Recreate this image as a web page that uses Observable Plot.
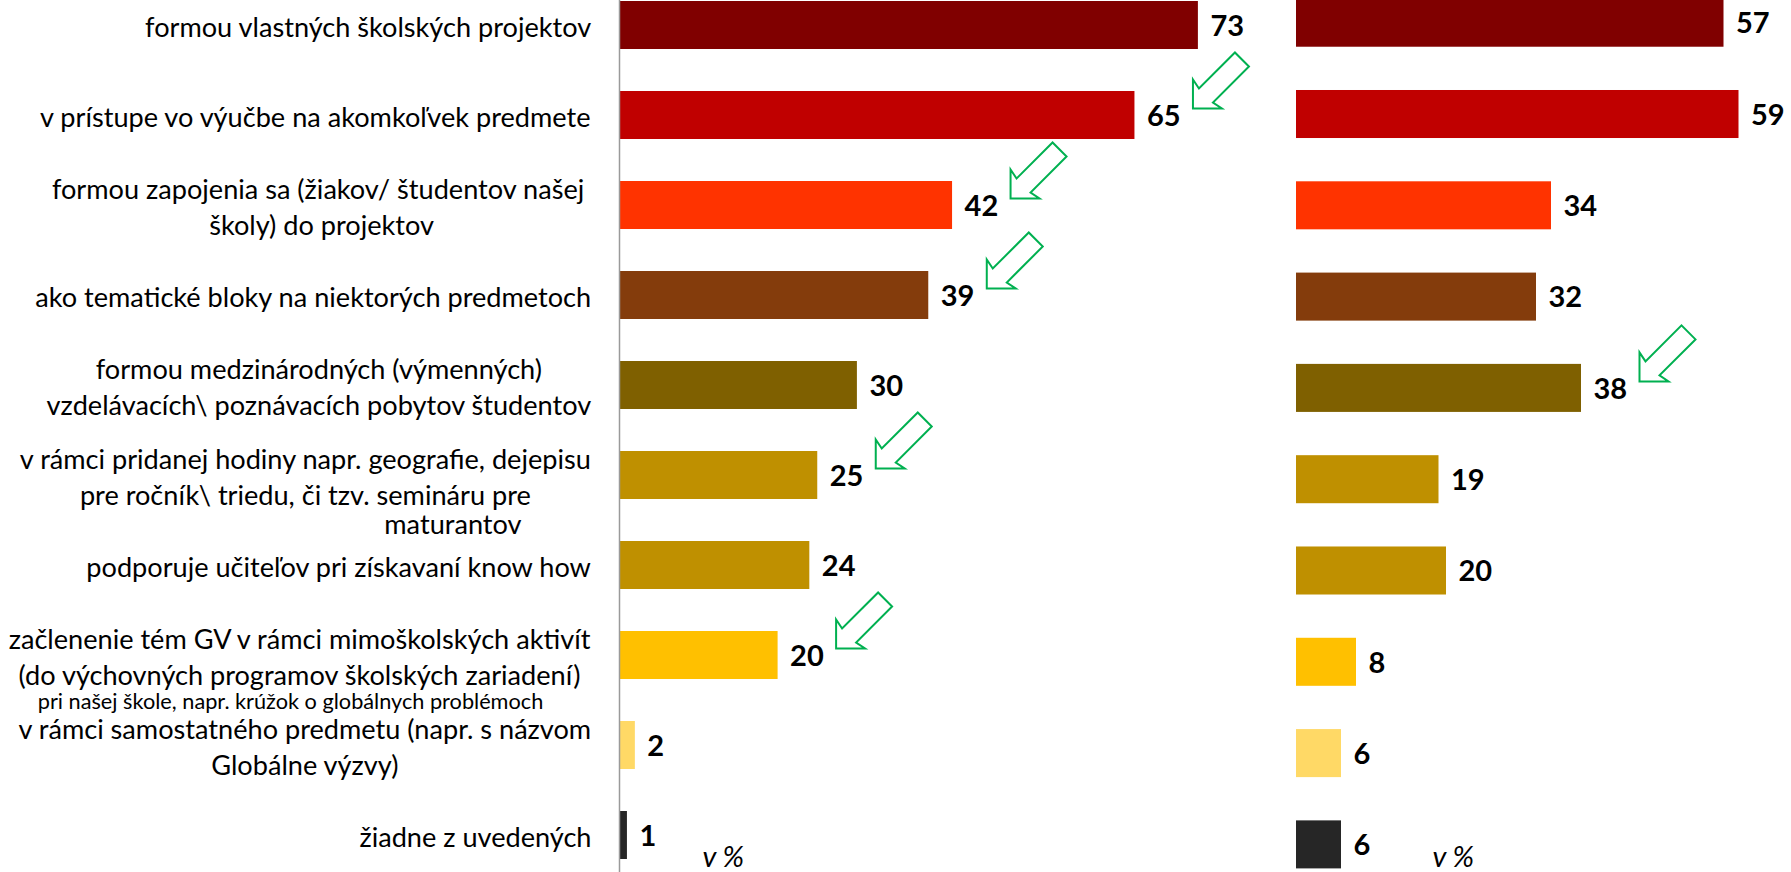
<!DOCTYPE html>
<html>
<head>
<meta charset="utf-8">
<script src="https://cdn.jsdelivr.net/npm/d3@7"></script>
<script src="https://cdn.jsdelivr.net/npm/@observablehq/plot@0.6"></script>
<style>
  html, body { margin: 0; padding: 0; background: #fff; }
  #wrap { position: relative; width: 1791px; height: 872px; overflow: hidden; background: #fff; }
  #left { position: absolute; left: 0; top: 0; }
  #right { position: absolute; left: 1280px; top: 0; }
</style>
</head>
<body>
<div id="wrap"><div id="left"></div><div id="right"></div></div>
<script>
// ---------- data ----------
const labelLines = [
  ["formou vlastných školských projektov"],
  ["v prístupe vo výučbe na akomkoľvek predmete"],
  ["formou zapojenia sa (žiakov/ študentov našej ", "školy) do projektov"],
  ["ako tematické bloky na niektorých predmetoch"],
  ["formou medzinárodných (výmenných)", "vzdelávacích\\ poznávacích pobytov študentov"],
  ["v rámci pridanej hodiny napr. geografie, dejepisu", "pre ročník\\ triedu, či tzv. semináru pre"],
  ["podporuje učiteľov pri získavaní know how"],
  ["začlenenie tém GV v rámci mimoškolských aktivít", "(do výchovných programov školských zariadení)"],
  ["v rámci samostatného predmetu (napr. s názvom", "Globálne výzvy)"],
  ["žiadne z uvedených"]
];
const categories = labelLines.map(l => l.join(" ").trim());
const leftValues  = [73, 65, 42, 39, 30, 25, 24, 20, 2, 1];
const rightValues = [57, 59, 34, 32, 38, 19, 20, 8, 6, 6];
const barColors = ["#800000", "#C00000", "#FF3300", "#843C0C", "#7F6000",
                   "#BF9000", "#BF9000", "#FFC000", "#FFD966", "#262626"];
const leftArrowCats  = [categories[1], categories[2], categories[3], categories[5], categories[7]];
const rightArrowCats = [categories[4]];
const noteMaturantov = "maturantov";
const noteKruzok = "pri našej škole, napr. krúžok o globálnych problémoch";
const unitLabel = "v %";

// ---------- helpers ----------
const FONT = "Lato";
const ctx = document.createElement("canvas").getContext("2d");
function measure(text, size, weight = "normal") {
  ctx.font = `${weight} ${size}px ${FONT}`;
  return ctx.measureText(text).width;
}
const labelSize = 100 * 447 / measure(labelLines[0][0], 100);
const lineH = 36 / labelSize;

const leftRows = categories.map((c, i) => ({cat: c, value: leftValues[i], color: barColors[i]}));
const rightRows = categories.map((c, i) => ({cat: c, value: rightValues[i], color: barColors[i]}));
const toArrowRows = (cats, vals) => cats.map(c => ({cat: c, value: vals[categories.indexOf(c)]}));

const arrowSymbol = {
  draw(context) {
    context.moveTo(0, 0);
    context.lineTo(0, -29);
    context.lineTo(6, -20);
    context.lineTo(42, -56);
    context.lineTo(56, -42);
    context.lineTo(20, -6);
    context.lineTo(29, 0);
    context.closePath();
  }
};

const valueLabelOpts = {
  x: "value", y: "cat", text: d => String(d.value),
  textAnchor: "start", lineAnchor: "middle", dx: 12, dy: 1,
  fontWeight: "bold", fontSize: 29, fill: "#000"
};
const arrowOpts = {
  x: "value", y: "cat", symbol: arrowSymbol, r: 10,
  fill: "none", stroke: "#00B050", strokeWidth: 2, dx: 58, dy: -7
};

// category label marks (multi-line blocks centered, right edge at gap from axis)
const labelMarks = labelLines.map((lines, i) => {
  const w = d3.max(lines, l => measure(l, labelSize));
  return Plot.text([categories[i]], {
    x: () => 0, y: d => d, text: () => lines.join("\n"),
    textAnchor: "middle", lineAnchor: "middle", lineHeight: lineH,
    dx: -(28 + w / 2), fontSize: labelSize, fill: "#000"
  });
});

const leftPlot = Plot.plot({
  width: 1280, height: 872,
  marginLeft: 0, marginRight: 0, marginTop: 0, marginBottom: 0,
  x: {domain: [0, 80], range: [619, 619 + 80 * 7.93], axis: null},
  y: {domain: categories, range: [1, 859], paddingInner: 0.4667, paddingOuter: 0, round: false, axis: null},
  color: {type: "identity"},
  style: {fontFamily: `${FONT}, sans-serif`, background: "white"},
  marks: [
    Plot.barX(leftRows, {x: "value", y: "cat", fill: "color"}),
    Plot.ruleX([0], {stroke: "#9a9a9a", strokeWidth: 1.5}),
    Plot.text(leftRows, valueLabelOpts),
    Plot.dot(toArrowRows(leftArrowCats, leftValues), arrowOpts),
    ...labelMarks,
    Plot.text([categories[5]], {
      x: () => 0, y: d => d, text: () => noteMaturantov,
      textAnchor: "end", lineAnchor: "middle", dx: -98, dy: 50,
      fontSize: labelSize, fill: "#000"
    }),
    Plot.text([categories[7]], {
      x: () => 0, y: d => d, text: () => noteKruzok,
      textAnchor: "middle", lineAnchor: "middle", dx: -329, dy: 47,
      fontSize: labelSize * 0.8, fill: "#000"
    }),
    Plot.text([unitLabel], {
      frameAnchor: "bottom-left", text: d => d, textAnchor: "start", lineAnchor: "middle",
      dx: 702, dy: -15, fontStyle: "italic", fontSize: 29, fill: "#000"
    })
  ]
});

const rightPlot = Plot.plot({
  width: 511, height: 872,
  marginLeft: 0, marginRight: 0, marginTop: 0, marginBottom: 0,
  x: {domain: [0, 80], range: [16, 16 + 80 * 7.5], axis: null},
  y: {domain: categories, range: [-1.3, 868.4], paddingInner: 0.474, paddingOuter: 0, round: false, axis: null},
  color: {type: "identity"},
  style: {fontFamily: `${FONT}, sans-serif`, background: "white"},
  marks: [
    Plot.barX(rightRows, {x: "value", y: "cat", fill: "color"}),
    Plot.text(rightRows, valueLabelOpts),
    Plot.dot(toArrowRows(rightArrowCats, rightValues), arrowOpts),
    Plot.text([unitLabel], {
      frameAnchor: "bottom-left", text: d => d, textAnchor: "start", lineAnchor: "middle",
      dx: 152, dy: -15, fontStyle: "italic", fontSize: 29, fill: "#000"
    })
  ]
});

document.getElementById("left").appendChild(leftPlot);
document.getElementById("right").appendChild(rightPlot);
</script>
</body>
</html>
